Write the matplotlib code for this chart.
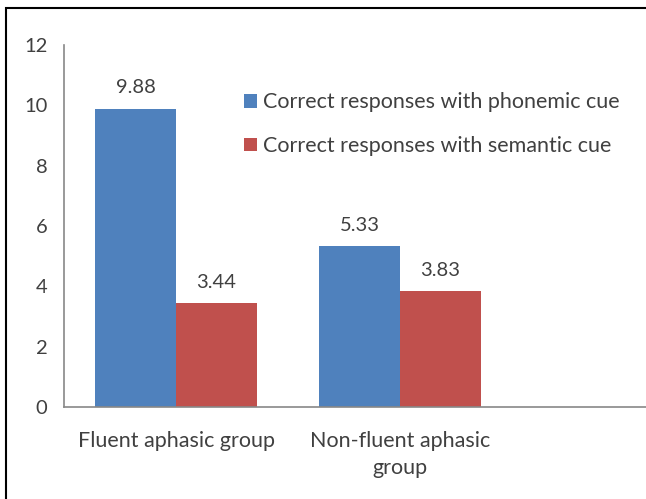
import matplotlib
matplotlib.use('Agg')
import matplotlib.pyplot as plt
from matplotlib.patches import Rectangle
import numpy as np

groups = ['Fluent aphasic group', 'Non-fluent aphasic\ngroup', '']
phonemic = [9.88, 5.33]
semantic = [3.44, 3.83]
series_names = ['Correct responses with phonemic cue',
                'Correct responses with semantic cue']
yticks = [0, 2, 4, 6, 8, 10, 12]

plt.rcParams['font.family'] = ['Lato', 'DejaVu Sans']

fig = plt.figure(figsize=(6.46, 4.99), dpi=100, facecolor='white')
# axes extend past the right edge (chart is cropped in the original)
ax = fig.add_axes([64/646, 1-407/499, 672/646, 362/499])

x = np.arange(2)
w = 0.36
b1 = ax.bar(x - w/2, phonemic, w, color='#4F81BD', label=series_names[0])
b2 = ax.bar(x + w/2, semantic, w, color='#C0504D', label=series_names[1])

for bars in (b1, b2):
    for r in bars:
        ax.text(r.get_x() + r.get_width()/2, r.get_height() + 0.42,
                f'{r.get_height():.2f}', ha='center', va='bottom',
                fontsize=14.5, color='#404040')

ax.set_xlim(-0.5, 2.5)
ax.set_ylim(0, 12)
ax.set_yticks(yticks)
ax.set_xticks(range(3))
ax.set_xticklabels(groups, fontsize=15.5, color='#404040', linespacing=1.45)
ax.tick_params(axis='both', length=0, labelsize=14.5, labelcolor='#404040')
ax.tick_params(axis='y', pad=12)
ax.tick_params(axis='x', pad=17, labelsize=15.5)
for s in ['top', 'right']:
    ax.spines[s].set_visible(False)
for s in ['left', 'bottom']:
    ax.spines[s].set_color('#888888')
    ax.spines[s].set_linewidth(1.2)

fig.legend(loc='upper left', bbox_to_anchor=(225/646, 1-73/499),
           frameon=False, fontsize=15.5, handlelength=0.6, handleheight=0.6,
           handletextpad=0.25, labelspacing=1.1, labelcolor='#404040')

# outer frame (only top and left visible)
fig.patches.append(Rectangle((6/646, -0.1), 1.2, 1 - 8/499 + 0.1,
                             transform=fig.transFigure, fill=False,
                             edgecolor='black', linewidth=1.5))

fig.savefig('out.png', dpi=100)
